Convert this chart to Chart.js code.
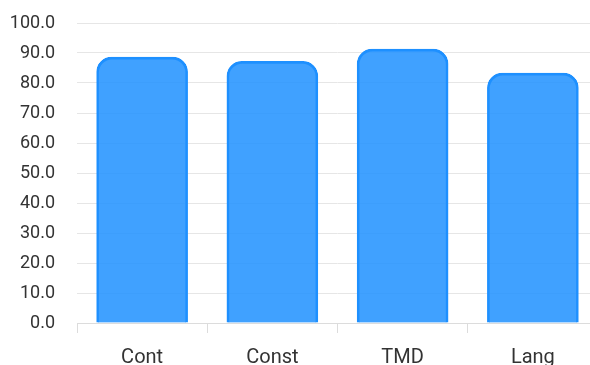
<!DOCTYPE html>
<html>
<head>
<meta charset="utf-8">
<script src="https://cdn.jsdelivr.net/npm/chart.js@4/dist/chart.umd.min.js"></script>
<style>
    html, body { margin: 0; padding: 0; background: #fff; overflow: hidden; }
    #wrap { width: 598px; height: 375px; position: relative; }
</style>
</head>
<body>
<div id="wrap"><canvas id="scoreChart"></canvas></div>
<script>
// categories and scores
const categories = ['Cont', 'Const', 'TMD', 'Lang'];
const scores = [88.6, 87.2, 91.3, 83.3];
const yMin = 0;
const yMax = 100;
const yStep = 10;

const ctx = document.getElementById('scoreChart').getContext('2d');

new Chart(ctx, {
    type: 'bar',
    data: {
        labels: categories,
        datasets: [{
            data: scores,
            backgroundColor: 'rgba(30, 144, 255, 0.85)',
            borderColor: '#1E90FF',
            borderWidth: 2,
            borderSkipped: 'bottom',
            borderRadius: { topLeft: 15, topRight: 15, bottomLeft: 0, bottomRight: 0 },
            barThickness: 91
        }]
    },
    options: {
        responsive: true,
        maintainAspectRatio: false,
        animation: false,
        layout: { padding: { top: 23, right: 0, left: 0, bottom: 0 } },
        plugins: {
            legend: { display: false },
            tooltip: { enabled: false }
        },
        scales: {
            x: {
                offset: true,
                afterFit: scale => { scale.height = 52; },
                grid: {
                    offset: true,
                    drawOnChartArea: false,
                    drawTicks: true,
                    tickLength: 10,
                    color: '#dcdcdc'
                },
                border: { color: '#dcdcdc', width: 1 },
                ticks: {
                    color: '#333',
                    padding: 13,
                    font: { family: 'Roboto', size: 20 }
                }
            },
            y: {
                min: yMin,
                max: yMax,
                afterFit: scale => { scale.width = 77; },
                // invisible tick marks just make room between labels and plot
                grid: { color: '#e6e6e6', drawTicks: true, tickLength: 22, tickColor: 'rgba(0,0,0,0)' },
                border: { display: false },
                ticks: {
                    stepSize: yStep,
                    color: '#333',
                    padding: 0,
                    font: { family: 'Roboto', size: 18 },
                    callback: value => value.toFixed(1)
                }
            }
        }
    }
});
</script>
</body>
</html>
